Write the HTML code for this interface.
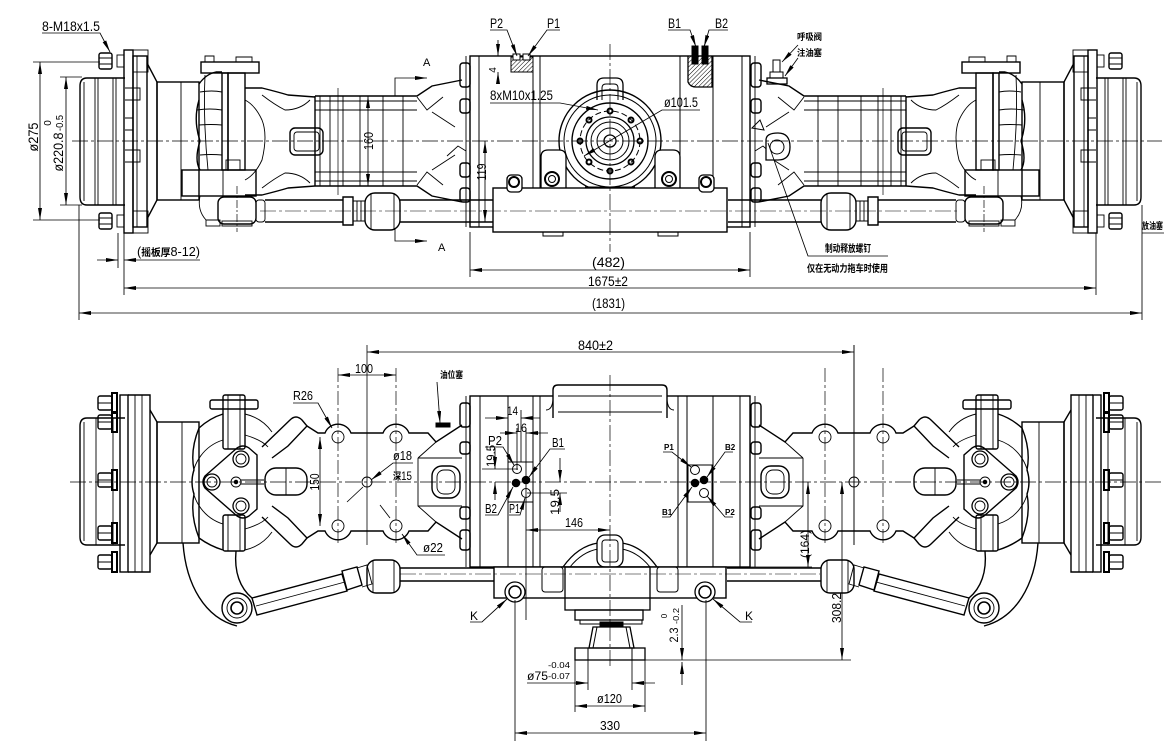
<!DOCTYPE html>
<html><head><meta charset="utf-8">
<style>
html,body{margin:0;padding:0;background:#fff;}
svg{display:block}
.tx text{font-family:"Liberation Sans","Noto Sans CJK SC",sans-serif;fill:#000;stroke:none}
.cj{font-family:"Liberation Sans","Noto Sans CJK SC",sans-serif;font-weight:bold}
</style></head>
<body>
<svg width="1164" height="744" viewBox="0 0 1164 744" xmlns="http://www.w3.org/2000/svg">
<defs>
<marker id="a" viewBox="0 0 12 4" refX="12" refY="2" markerWidth="12" markerHeight="4" markerUnits="userSpaceOnUse" orient="auto-start-reverse"><path d="M0,0 L12,2 L0,4 Z" fill="#000" stroke="none"/></marker>
<pattern id="h" width="3" height="3" patternUnits="userSpaceOnUse" patternTransform="rotate(45)"><line x1="0" y1="0" x2="0" y2="3" stroke="#000" stroke-width="1"/></pattern>
</defs>
<rect width="1164" height="744" fill="#fff"/>

<!-- ============ LEFT HALF (mirrored to right) ============ -->
<g id="L" fill="none" stroke="#000">
 <!-- TOP VIEW -->
 <g stroke-width="1.4">
  <path d="M125,78 H87 Q80,78 80,86 V197 Q80,205 87,205 H125"/>
  <rect x="124" y="50" width="9" height="183"/>
  <rect x="133" y="56" width="14" height="171"/>
  <rect x="99" y="53" width="13" height="16" rx="2"/>
  <rect x="99" y="213" width="13" height="16" rx="2"/>
  <path d="M147,63 L157,82 V200 L147,219"/>
  <rect x="157" y="82" width="42" height="118"/>
  <path d="M199,84 Q206,74 216,72 H222 M199,100 Q193,120 200,141 Q194,160 200,170"/>
  <rect x="201" y="62" width="58" height="11"/>
  <rect x="222" y="73" width="6" height="97"/>
  <rect x="228" y="73" width="17" height="97"/>
  <rect x="182" y="170" width="74" height="26"/>
  <path d="M245,88 H262 Q278,92 288,95 L315,97"/>
  <path d="M245,195 H262 Q278,191 288,188 L315,186"/>
  <rect x="290" y="128" width="33" height="27" rx="5"/>
  <rect x="218" y="197" width="38" height="27" rx="6"/>
  <path d="M315,96 H417 L432,86 L462,80"/>
  <path d="M315,186 H417 L432,196 L462,202"/>
  <line x1="315" y1="96" x2="315" y2="186"/>
  <path d="M265,200 H343 M265,222 H343"/>
  <path d="M343,197 H353 V225 H343 Z"/>
  <rect x="365" y="193" width="35" height="37" rx="10"/>
  <path d="M400,200 H493 M400,222 H493"/>
  <rect x="460" y="63" width="10" height="24" rx="3"/>
  <rect x="460" y="99" width="10" height="14" rx="3"/>
  <rect x="460" y="163" width="10" height="14" rx="3"/>
  <rect x="460" y="188" width="10" height="14" rx="3"/>
 </g>
 <g stroke-width="0.9">
  <path d="M84,82 V201 M95,78 V205 M98,78 V205 M113,78 V205 M116,78 V205"/>
  <path d="M137,56 V227 M125,88 H140 V100 H125 M125,150 H140 V162 H125 M125,118 H133 M125,130 H133"/>
  <rect x="133" y="50" width="15" height="22"/>
  <rect x="133" y="211" width="15" height="22"/>
  <path d="M99,58 H112 M99,64 H112 M99,218 H112 M99,224 H112"/>
  <rect x="117" y="55" width="7" height="12"/>
  <rect x="117" y="215" width="7" height="12"/>
  <line x1="181" y1="82" x2="181" y2="200"/>
  <path d="M200,92 Q212,90 222,92 M197,110 Q210,108 222,110 M199,125 Q211,124 222,125 M200,155 Q211,154 222,155 M205,75 Q203,120 208,170"/>
  <path d="M205,62 V56 H214 V62 M236,62 V57 H252 V62"/>
  <rect x="226" y="160" width="14" height="10"/>
  <line x1="223" y1="170" x2="223" y2="196"/>
  <path d="M245,100 Q255,105 262,120 Q268,135 262,160 Q255,175 245,180"/>
  <path d="M262,95 Q275,105 285,110 Q300,110 310,100 M262,188 Q275,178 285,173 Q300,173 310,183"/>
  <rect x="294" y="132" width="25" height="19" rx="3"/>
  <path d="M200,196 Q197,210 206,220 H218"/>
  <rect x="206" y="220" width="14" height="6"/>
  <rect x="222" y="221" width="30" height="5"/>
  <rect x="256" y="200" width="9" height="22" rx="3"/>
  <path d="M320,96 V186 M330,96 V186 M343,96 V186 M360,96 V186 M383,96 V186 M403,96 V186"/>
  <path d="M315,101 H417 M315,110 H417 M315,172 H417 M315,181 H417"/>
  <path d="M417,97 L427,110 L443,97 M417,185 L427,172 L443,185 M432,112 L455,127 M432,170 L455,155 M447,156 L458,146 L466,151"/>
  <path d="M353,201 H365 V221 H353 M357,201 V221 M361,201 V221"/>
  <path d="M371,193 V230 M394,193 V230"/>
  <line x1="466" y1="56" x2="466" y2="227"/>
  <path d="M237,186 V232" stroke-dasharray="8 2 2 2" stroke-width="0.7"/>
  <path d="M338,88 V195" stroke-width="0.7"/>
 </g>

 <!-- BOTTOM VIEW -->
 <g stroke-width="1.4">
  <path d="M125,418 H87 Q80,418 80,426 V537 Q80,545 87,545 H125"/>
  <rect x="120" y="395" width="8" height="177"/>
  <path d="M128,395 H150 V572 H128"/>
  <path d="M150,410 L157,422 V543 L150,555"/>
  <rect x="157" y="422" width="42" height="121"/>
  <rect x="98" y="396" width="14" height="14" rx="2"/>
  <rect x="98" y="415" width="14" height="14" rx="2"/>
  <rect x="98" y="473" width="14" height="14" rx="2"/>
  <rect x="98" y="526" width="14" height="14" rx="2"/>
  <rect x="98" y="555" width="14" height="14" rx="2"/>
  <path d="M199,428 Q190,450 194,470 Q190,482 194,494 Q190,515 199,538"/>
  <path d="M199,428 Q210,418 223,414 M199,538 Q210,546 223,550"/>
  <path d="M205,476 L237,448 Q243,444 249,448 L257,455 V509 L249,516 Q243,520 237,516 L205,488 Q201,482 205,476 Z"/>
  <rect x="223" y="395" width="22" height="54" rx="2"/>
  <rect x="223" y="515" width="22" height="36" rx="2"/>
  <rect x="210" y="400" width="48" height="9" rx="2"/>
  <path d="M262,447 L290,420 Q296,414 302,420 L307,426 L288,446 L272,458"/>
  <path d="M262,517 L290,544 Q296,550 302,544 L307,538 L288,518 L272,506"/>
  <rect x="265" y="468" width="42" height="27" rx="11"/>
  <path d="M183,543 C186,585 205,618 237,626"/>
  <path d="M236,551 C234,572 240,588 252,598"/>
  <circle cx="237" cy="608" r="15" fill="#fff"/>
  <path d="M252,598 L342,574 L347,591 L257,615 Z" fill="#fff"/>
  <path d="M342,571 L357,567 L362,585 L347,590 Z"/>
  <rect x="367" y="560" width="33" height="33" rx="9"/>
  <path d="M400,568 H494 M400,581 H494"/>
  <path d="M307,426 L318,433 H325 A14,14 0 0,1 351,433 H383 A14,14 0 0,1 409,433 H428 L436,442 L462,425"/>
  <path d="M307,538 L318,531 H325 A14,14 0 0,0 351,531 H383 A14,14 0 0,0 409,531 H428 L436,522 L462,539"/>
  <rect x="432" y="466" width="28" height="32" rx="10"/>
  <rect x="460" y="403" width="10" height="24" rx="3"/>
  <rect x="460" y="442" width="10" height="12" rx="3"/>
  <rect x="460" y="507" width="10" height="12" rx="3"/>
  <rect x="460" y="530" width="10" height="20" rx="3"/>
 </g>
 <g stroke-width="0.9">
  <path d="M84,422 V541 M96,418 V545 M113,418 V545"/>
  <path d="M135,395 V572 M142,395 V572"/>
  <line x1="182" y1="422" x2="182" y2="543"/>
  <rect x="112" y="393" width="5" height="20" stroke-width="2"/>
  <rect x="112" y="412" width="5" height="20" stroke-width="2"/>
  <rect x="112" y="470" width="5" height="20" stroke-width="2"/>
  <rect x="112" y="523" width="5" height="20" stroke-width="2"/>
  <rect x="112" y="552" width="5" height="20" stroke-width="2"/>
  <path d="M98,403 H112 M98,422 H112 M98,480 H112 M98,533 H112 M98,562 H112"/>
  <path d="M245,414 Q262,418 272,432 M245,550 Q262,546 272,532"/>
  <path d="M223,440 A44,44 0 0,0 223,524"/>
  <path d="M245,435 Q262,440 268,447 M245,529 Q262,524 268,517"/>
  <path d="M228,395 V449 M240,395 V449 M228,515 V551 M240,515 V551"/>
  <circle cx="212" cy="482" r="8" stroke-width="1.3"/><circle cx="212" cy="482" r="5"/>
  <circle cx="241" cy="459" r="8" stroke-width="1.3"/><circle cx="241" cy="459" r="5"/>
  <circle cx="241" cy="506" r="8" stroke-width="1.3"/><circle cx="241" cy="506" r="5"/>
  <circle cx="236" cy="482" r="5"/><circle cx="236" cy="482" r="1.8" fill="#000"/>
  <path d="M241,480 H264 M241,484 H264"/>
  <line x1="286" y1="468" x2="286" y2="495"/>
  <circle cx="237" cy="608" r="10"/>
  <circle cx="237" cy="608" r="6" stroke-width="1.6"/>
  <path d="M256,606 L345,582"/>
  <path d="M357,568 L367,565 L372,584 L362,587"/>
  <path d="M373,560 V593 M394,560 V593"/>
  <circle cx="338" cy="437" r="6"/><circle cx="396" cy="437" r="6"/>
  <circle cx="338" cy="526" r="6"/><circle cx="396" cy="526" r="6"/>
  <circle cx="367" cy="482" r="5"/>
  <path d="M418,458 L436,442 M418,458 V506 L436,522 M418,458 H462 M418,506 H462"/>
  <rect x="437" y="470" width="18" height="24" rx="7"/>
  <line x1="466" y1="396" x2="466" y2="567"/>
  <path d="M338,368 V545 M396,368 V545" stroke-dasharray="14 3 3 3" stroke-width="0.7"/>
  <path d="M367,345 V545" stroke-width="0.8"/>
 </g>
</g>
<use href="#L" transform="matrix(-1 0 0 1 1221 0)"/>

<!-- ============ TOP VIEW CENTRE ============ -->
<g fill="none" stroke="#000" stroke-width="1">
 <rect x="470" y="56" width="280" height="171" stroke-width="1.4"/>
 <path d="M479,56 V227 M533,56 V188 M540,56 V188 M680,56 V188 M713,56 V188 M742,56 V227"/>
 <rect x="511" y="57" width="22" height="15" fill="url(#h)"/>
 <rect x="513" y="54" width="7" height="6" fill="#fff"/><rect x="523" y="54" width="7" height="6" fill="#fff"/>
 <path d="M688,56 V82 Q690,87 696,87 H712 V56" fill="url(#h)" stroke-width="1.3"/>
 <rect x="692" y="46" width="6" height="18" fill="#000"/>
 <rect x="702" y="46" width="6" height="18" fill="#000"/>
 <path d="M597,100 V85 Q597,78 604,78 H616 Q623,78 623,85 V100" stroke-width="1.3"/>
 <path d="M602,100 V88 Q602,84 606,84 H614 Q618,84 618,88 V100"/>
 <circle cx="610" cy="141" r="51" stroke-width="1.4"/>
 <circle cx="610" cy="141" r="46"/>
 <circle cx="610" cy="141" r="38" stroke-width="1.4"/>
 <circle cx="610" cy="141" r="30" stroke-dasharray="6 3"/>
 <circle cx="610" cy="141" r="24" stroke-width="1.3"/>
 <circle cx="610" cy="141" r="19"/>
 <circle cx="610" cy="141" r="13"/>
 <circle cx="610" cy="141" r="6" stroke-width="1.3"/>
 <g stroke-width="2">
  <circle cx="640" cy="141" r="2.5"/><circle cx="631" cy="162" r="2.5"/><circle cx="610" cy="171" r="2.5"/><circle cx="589" cy="162" r="2.5"/>
  <circle cx="580" cy="141" r="2.5"/><circle cx="589" cy="120" r="2.5"/><circle cx="610" cy="111" r="2.5"/><circle cx="631" cy="120" r="2.5"/>
 </g>
 <path d="M585,187 H635"/>
 <path d="M541,188 V157 Q541,150 548,150 H559 Q566,150 566,157 V188" fill="#fff" stroke-width="1.3"/>
 <circle cx="552" cy="179" r="7" stroke-width="2"/><circle cx="552" cy="179" r="3.5"/>
 <path d="M655,188 V157 Q655,150 662,150 H673 Q680,150 680,157 V188" fill="#fff" stroke-width="1.3"/>
 <circle cx="669" cy="179" r="7" stroke-width="2"/><circle cx="669" cy="179" r="3.5"/>
 <rect x="493" y="188" width="234" height="44" fill="#fff" stroke-width="1.4"/>
 <path d="M543,232 v4 h20 v-4 M658,232 v4 h20 v-4"/>
 <rect x="507" y="175" width="15" height="17" rx="4" fill="#fff" stroke-width="1.3"/><circle cx="514" cy="182" r="5" stroke-width="2"/>
 <rect x="699" y="175" width="15" height="17" rx="4" fill="#fff" stroke-width="1.3"/><circle cx="706" cy="182" r="5" stroke-width="2"/>
 <!-- brake screw bracket -->
 <path d="M766,160 V140 Q766,133 778,133 Q790,133 790,147 Q790,160 778,160 Z" fill="#fff" stroke-width="1.3"/>
 <circle cx="777" cy="147" r="7"/>
 <path d="M752,128 L760,120 L764,130 Z"/>
 <!-- breather -->
 <rect x="773" y="60" width="7" height="12"/><rect x="770" y="72" width="13" height="6"/><rect x="767" y="78" width="20" height="6" stroke-width="1.3"/>
 <!-- centre lines -->
 <line x1="72" y1="141" x2="1162" y2="141" stroke-dasharray="16 3 3 3" stroke-width="0.7"/>
 <line x1="610" y1="44" x2="610" y2="252" stroke-dasharray="16 3 3 3" stroke-width="0.7"/>
 <line x1="260" y1="211" x2="960" y2="211" stroke-dasharray="16 3 3 3" stroke-width="0.6"/>
</g>

<!-- ============ BOTTOM VIEW CENTRE ============ -->
<g fill="none" stroke="#000" stroke-width="1">
 <rect x="470" y="396" width="280" height="171" stroke-width="1.4"/>
 <path d="M480,396 V567 M508,396 V567 M533,396 V567 M540,396 V567 M678,396 V567 M687,396 V567 M713,396 V567 M740,396 V567"/>
 <path d="M553,418 V390 Q553,385 558,385 H662 Q667,385 667,390 V418" fill="#fff" stroke-width="1.4"/>
 <path d="M558,396 H662 M558,412 H662"/>
 <path d="M546,410 Q552,410 553,400 M674,410 Q668,410 667,400"/>
 <rect x="508" y="462" width="25" height="40"/>
 <rect x="688" y="465" width="24" height="37"/>
 <circle cx="517" cy="469" r="4.5"/><circle cx="526" cy="480" r="3.8" fill="#000"/><circle cx="516" cy="483" r="3.8" fill="#000"/><circle cx="526" cy="493" r="4.5"/>
 <circle cx="695" cy="470" r="4.5"/><circle cx="704" cy="480" r="3.8" fill="#000"/><circle cx="695" cy="483" r="3.8" fill="#000"/><circle cx="704" cy="493" r="4.5"/>
 <path d="M563,567 Q578,546 598,543 M622,543 Q642,546 657,567" stroke-width="1.3"/>
 <path d="M570,567 Q582,552 598,549 M622,549 Q638,552 650,567"/>
 <rect x="597" y="535" width="26" height="32" rx="8" fill="#fff" stroke-width="1.3"/>
 <rect x="602" y="540" width="16" height="22" rx="3"/>
 <rect x="494" y="567" width="232" height="31" fill="#fff" stroke-width="1.4"/>
 <rect x="542" y="567" width="21" height="25" rx="3"/>
 <rect x="657" y="567" width="21" height="25" rx="3"/>
 <rect x="565" y="567" width="85" height="43" stroke-width="1.3"/>
 <circle cx="515" cy="592" r="10" stroke-width="1.3" fill="#fff"/><circle cx="515" cy="592" r="6" stroke-width="1.5"/>
 <circle cx="705" cy="592" r="10" stroke-width="1.3" fill="#fff"/><circle cx="705" cy="592" r="6" stroke-width="1.5"/>
 <rect x="575" y="610" width="68" height="10" stroke-width="1.3"/>
 <rect x="580" y="620" width="62" height="4"/>
 <rect x="600" y="622" width="23" height="5" fill="#000"/>
 <path d="M593,627 H630 L634,648 H589 Z" stroke-width="1.3"/>
 <path d="M597,627 L593,648 M626,627 L630,648"/>
 <rect x="575" y="648" width="70" height="12" stroke-width="1.3"/>
 <path d="M588,648 V660 M632,648 V660"/>
 <rect x="436" y="423" width="14" height="4" fill="#000"/>
 <line x1="70" y1="482" x2="1162" y2="482" stroke-dasharray="16 3 3 3" stroke-width="0.7"/>
 <line x1="610" y1="375" x2="610" y2="668" stroke-dasharray="16 3 3 3" stroke-width="0.7"/>
 <line x1="400" y1="574" x2="820" y2="574" stroke-dasharray="16 3 3 3" stroke-width="0.6"/>
</g>

<!-- ============ DIMENSIONS & LEADERS ============ -->
<g fill="none" stroke="#000" stroke-width="0.85">
 <!-- top view -->
 <path d="M33,62 H100 M33,220 H100 M60,77 H82 M60,205 H82"/>
 <line x1="40" y1="62" x2="40" y2="220" marker-start="url(#a)" marker-end="url(#a)"/>
 <line x1="66" y1="77" x2="66" y2="205" marker-start="url(#a)" marker-end="url(#a)"/>
 <path d="M118,233 V268 M124,233 V295 M79,205 V320 M1142,205 V320 M1096,233 V295 M470,232 V277 M750,232 V277"/>
 <path d="M97,260 H118" marker-end="url(#a)"/>
 <path d="M200,260 H124" marker-end="url(#a)"/>
 <line x1="124" y1="288" x2="1096" y2="288" marker-start="url(#a)" marker-end="url(#a)"/>
 <line x1="79" y1="313" x2="1142" y2="313" marker-start="url(#a)" marker-end="url(#a)"/>
 <line x1="470" y1="270" x2="750" y2="270" marker-start="url(#a)" marker-end="url(#a)"/>
 <line x1="368" y1="96" x2="368" y2="186" marker-start="url(#a)" marker-end="url(#a)"/>
 <line x1="485" y1="141" x2="485" y2="222" marker-start="url(#a)" marker-end="url(#a)"/>
 <path d="M498,40 V56" marker-end="url(#a)"/>
 <path d="M498,84 V72" marker-end="url(#a)"/>
 <path d="M395,96 V78 H427" marker-end="url(#a)"/>
 <path d="M395,228 V241 H427" marker-end="url(#a)"/>
 <path d="M42,33 H100 L110,52" marker-end="url(#a)"/>
 <path d="M490,30 H507 L517,56" marker-end="url(#a)"/>
 <path d="M560,30 H547 L528,56" marker-end="url(#a)"/>
 <path d="M668,30 H690 L696,47" marker-end="url(#a)"/>
 <path d="M728,30 H709 L704,47" marker-end="url(#a)"/>
 <path d="M490,103 H560 L598,110" marker-end="url(#a)"/>
 <path d="M700,110 H662 L584,156" marker-end="url(#a)"/>
 <path d="M798,45 L782,62" marker-end="url(#a)"/>
 <path d="M798,58 L785,76" marker-end="url(#a)"/>
 <path d="M888,256 H808 L768,143"/>
 <path d="M1142,233 H1164"/>
 <!-- bottom view -->
 <path d="M854,345 V545"/>
 <line x1="367" y1="352" x2="854" y2="352" marker-start="url(#a)" marker-end="url(#a)"/>
 <line x1="338" y1="375" x2="396" y2="375" marker-start="url(#a)" marker-end="url(#a)"/>
 <line x1="320" y1="437" x2="320" y2="526" marker-start="url(#a)" marker-end="url(#a)"/>
 <path d="M293,403 H318 L332,428" marker-end="url(#a)"/>
 <path d="M437,382 L440,423" marker-end="url(#a)"/>
 <path d="M413,463 H393 L371,480" marker-end="url(#a)"/>
 <path d="M363,487 L347,502"/>
 <path d="M445,555 H417 L402,534" marker-end="url(#a)"/>
 <path d="M390,518 L380,505"/>
 <path d="M508,410 V462 M521,410 V462 M517,428 V470 M526,428 V620"/>
 <path d="M485,418 H508" marker-end="url(#a)"/>
 <path d="M540,418 H521" marker-end="url(#a)"/>
 <path d="M500,433 H517" marker-end="url(#a)"/>
 <path d="M548,433 H526" marker-end="url(#a)"/>
 <path d="M482,469 H518"/>
 <path d="M495,448 V469" marker-end="url(#a)"/>
 <path d="M495,500 V482" marker-end="url(#a)"/>
 <path d="M527,493 H567"/>
 <path d="M560,458 V482" marker-end="url(#a)"/>
 <path d="M560,512 V493" marker-end="url(#a)"/>
 <line x1="526" y1="530" x2="610" y2="530" marker-start="url(#a)" marker-end="url(#a)"/>
 <path d="M485,447 H503 L514,465" marker-end="url(#a)"/>
 <path d="M565,449 H550 L529,477" marker-end="url(#a)"/>
 <path d="M485,515 H498 L513,487" marker-end="url(#a)"/>
 <path d="M509,515 H520 L525,498" marker-end="url(#a)"/>
 <path d="M663,452 H672 L691,467" marker-end="url(#a)"/>
 <path d="M733,452 H725 L707,477" marker-end="url(#a)"/>
 <path d="M662,517 H670 L692,487" marker-end="url(#a)"/>
 <path d="M733,517 H725 L707,496" marker-end="url(#a)"/>
 <path d="M750,567 H812"/>
 <line x1="808" y1="482" x2="808" y2="567" marker-start="url(#a)" marker-end="url(#a)"/>
 <line x1="842" y1="482" x2="842" y2="660" marker-start="url(#a)" marker-end="url(#a)"/>
 <path d="M577,660 H851"/>
 <path d="M682,605 V660" marker-end="url(#a)"/>
 <path d="M682,685 V662" marker-end="url(#a)"/>
 <path d="M575,660 V712 M645,660 V712 M588,660 V690 M632,660 V690"/>
 <path d="M527,683 H588" marker-end="url(#a)"/>
 <path d="M655,683 H632" marker-end="url(#a)"/>
 <line x1="575" y1="706" x2="645" y2="706" marker-start="url(#a)" marker-end="url(#a)"/>
 <path d="M515,600 V741 M706,600 V741"/>
 <line x1="515" y1="733" x2="706" y2="733" marker-start="url(#a)" marker-end="url(#a)"/>
 <path d="M470,622 H482 L507,599" marker-end="url(#a)"/>
 <path d="M752,622 H740 L713,599" marker-end="url(#a)"/>
</g>

<!-- ============ TEXT ============ -->
<g class="tx">
 <text x="42" y="31" font-size="14" textLength="58" lengthAdjust="spacingAndGlyphs">8-M18x1.5</text>
 <text transform="translate(38,137) rotate(-90)" text-anchor="middle" font-size="14" textLength="29" lengthAdjust="spacingAndGlyphs">ø275</text>
 <text transform="translate(63,152) rotate(-90)" text-anchor="middle" font-size="14" textLength="39" lengthAdjust="spacingAndGlyphs">ø220.8</text>
 <text transform="translate(63,123) rotate(-90)" text-anchor="middle" font-size="10" textLength="16" lengthAdjust="spacingAndGlyphs">-0.5</text>
 <text transform="translate(51,123) rotate(-90)" text-anchor="middle" font-size="10">0</text>
 <text x="137" y="256" font-size="13" textLength="63" lengthAdjust="spacingAndGlyphs">(<tspan class="cj" font-size="10">摇板厚</tspan>8-12)</text>
 <text x="423" y="66" font-size="11">A</text>
 <text x="438" y="251" font-size="11">A</text>
 <text transform="translate(373,141) rotate(-90)" text-anchor="middle" font-size="13" textLength="18" lengthAdjust="spacingAndGlyphs">160</text>
 <text transform="translate(486,172) rotate(-90)" text-anchor="middle" font-size="13" textLength="17" lengthAdjust="spacingAndGlyphs">119</text>
 <text transform="translate(496,70) rotate(-90)" text-anchor="middle" font-size="10">4</text>
 <text x="490" y="28" font-size="14" textLength="13" lengthAdjust="spacingAndGlyphs">P2</text>
 <text x="547" y="28" font-size="14" textLength="13" lengthAdjust="spacingAndGlyphs">P1</text>
 <text x="668" y="28" font-size="14" textLength="13" lengthAdjust="spacingAndGlyphs">B1</text>
 <text x="715" y="28" font-size="14" textLength="13" lengthAdjust="spacingAndGlyphs">B2</text>
 <text x="490" y="100" font-size="14" textLength="63" lengthAdjust="spacingAndGlyphs">8xM10x1.25</text>
 <text x="664" y="107" font-size="14" textLength="34" lengthAdjust="spacingAndGlyphs">ø101.5</text>
 <text class="cj" x="797" y="40" font-size="9" textLength="25" lengthAdjust="spacingAndGlyphs">呼吸阀</text>
 <text class="cj" x="797" y="56" font-size="9" textLength="25" lengthAdjust="spacingAndGlyphs">注油塞</text>
 <text class="cj" x="825" y="252" font-size="10" textLength="46" lengthAdjust="spacingAndGlyphs">制动释放螺钉</text>
 <text class="cj" x="807" y="272" font-size="10" textLength="81" lengthAdjust="spacingAndGlyphs">仅在无动力拖车时使用</text>
 <text class="cj" x="1142" y="229" font-size="9" textLength="21" lengthAdjust="spacingAndGlyphs">放油塞</text>
 <text x="592" y="267" font-size="14" textLength="33" lengthAdjust="spacingAndGlyphs">(482)</text>
 <text x="588" y="286" font-size="14" textLength="40" lengthAdjust="spacingAndGlyphs">1675±2</text>
 <text x="592" y="308" font-size="14" textLength="33" lengthAdjust="spacingAndGlyphs">(1831)</text>

 <text x="578" y="350" font-size="14" textLength="35" lengthAdjust="spacingAndGlyphs">840±2</text>
 <text x="355" y="373" font-size="13" textLength="18" lengthAdjust="spacingAndGlyphs">100</text>
 <text x="293" y="400" font-size="13" textLength="20" lengthAdjust="spacingAndGlyphs">R26</text>
 <text class="cj" x="440" y="378" font-size="9" textLength="23" lengthAdjust="spacingAndGlyphs">油位塞</text>
 <text x="393" y="460" font-size="13" textLength="19" lengthAdjust="spacingAndGlyphs">ø18</text>
 <text x="393" y="480" font-size="12" textLength="19" lengthAdjust="spacingAndGlyphs"><tspan class="cj" font-size="10">深</tspan>15</text>
 <text x="423" y="552" font-size="13" textLength="20" lengthAdjust="spacingAndGlyphs">ø22</text>
 <text transform="translate(319,482) rotate(-90)" text-anchor="middle" font-size="13" textLength="17" lengthAdjust="spacingAndGlyphs">150</text>
 <text x="507" y="415" font-size="12" textLength="11" lengthAdjust="spacingAndGlyphs">14</text>
 <text x="515" y="432" font-size="12" textLength="12" lengthAdjust="spacingAndGlyphs">16</text>
 <text x="488" y="445" font-size="13" textLength="14" lengthAdjust="spacingAndGlyphs">P2</text>
 <text x="552" y="447" font-size="13" textLength="12" lengthAdjust="spacingAndGlyphs">B1</text>
 <text x="485" y="513" font-size="13" textLength="12" lengthAdjust="spacingAndGlyphs">B2</text>
 <text x="509" y="513" font-size="13" textLength="11" lengthAdjust="spacingAndGlyphs">P1</text>
 <text transform="translate(495,456) rotate(-90)" text-anchor="middle" font-size="12" textLength="22" lengthAdjust="spacingAndGlyphs">19.5</text>
 <text transform="translate(559,502) rotate(-90)" text-anchor="middle" font-size="12" textLength="26" lengthAdjust="spacingAndGlyphs">19.5</text>
 <text x="565" y="527" font-size="13" textLength="18" lengthAdjust="spacingAndGlyphs">146</text>
 <text x="664" y="450" font-size="8" font-weight="bold">P1</text>
 <text x="725" y="450" font-size="8" font-weight="bold">B2</text>
 <text x="662" y="515" font-size="8" font-weight="bold">B1</text>
 <text x="725" y="515" font-size="8" font-weight="bold">P2</text>
 <text transform="translate(809,544) rotate(-90)" text-anchor="middle" font-size="12" textLength="28" lengthAdjust="spacingAndGlyphs">(164)</text>
 <text transform="translate(841,608) rotate(-90)" text-anchor="middle" font-size="13" textLength="30" lengthAdjust="spacingAndGlyphs">308.2</text>
 <text transform="translate(678,635) rotate(-90)" text-anchor="middle" font-size="12" textLength="15" lengthAdjust="spacingAndGlyphs">2.3</text>
 <text transform="translate(679,616) rotate(-90)" text-anchor="middle" font-size="8" textLength="16" lengthAdjust="spacingAndGlyphs">-0.2</text>
 <text transform="translate(667,616) rotate(-90)" text-anchor="middle" font-size="8">0</text>
 <text x="527" y="680" font-size="12" textLength="21" lengthAdjust="spacingAndGlyphs">ø75</text>
 <text x="548" y="668" font-size="8" textLength="22" lengthAdjust="spacingAndGlyphs">-0.04</text>
 <text x="548" y="679" font-size="8" textLength="22" lengthAdjust="spacingAndGlyphs">-0.07</text>
 <text x="597" y="703" font-size="13" textLength="25" lengthAdjust="spacingAndGlyphs">ø120</text>
 <text x="600" y="730" font-size="13" textLength="20" lengthAdjust="spacingAndGlyphs">330</text>
 <text x="470" y="620" font-size="12">K</text>
 <text x="745" y="620" font-size="12">K</text>
</g>
</svg>
</body></html>
